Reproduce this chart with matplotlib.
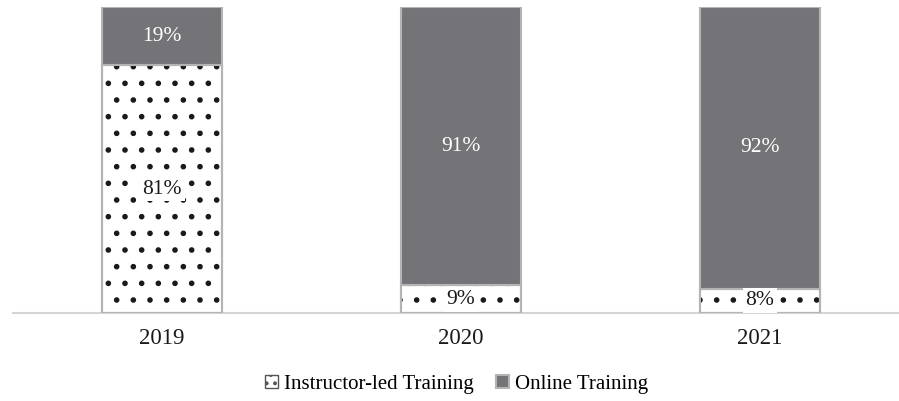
import numpy as np
from matplotlib import pyplot as plt

years = ["2019", "2020", "2021"]
instructor_led = [81, 9, 8]
online = [19, 91, 92]

plt.rcParams['font.family'] = ['Liberation Serif', 'DejaVu Serif']
plt.rcParams['hatch.linewidth'] = 1.6

fig = plt.figure(figsize=(8.99, 4.01), dpi=100)
ax = fig.add_axes([13 / 899, 88 / 401, 886 / 899, 306 / 401])

x = np.arange(len(years))
width = 0.40
edge = "#b4b4b4"

ax.bar(x, instructor_led, width, color="white", edgecolor=edge, linewidth=1.5,
       zorder=2)
ax.bar(x, instructor_led, width, color="none", edgecolor="#1a1a1a", hatch=".",
       linewidth=0, zorder=3)
ax.bar(x, instructor_led, width, color="none", edgecolor=edge, linewidth=1.5, zorder=4)
ax.bar(x, online, width, bottom=instructor_led, color="#747478", edgecolor=edge,
       linewidth=1.5, label="Online Training", zorder=2)

# legend handle for the patterned series
inst_handle = plt.Rectangle((0, 0), 1, 1, facecolor="white", edgecolor="#555555",
                            hatch="..", linewidth=1)

for i in range(len(years)):
    ax.text(x[i], instructor_led[i] / 2, f"{instructor_led[i]}%", ha="center",
            va="center", fontsize=15.5, color="#1a1a1a", zorder=5,
            bbox=dict(facecolor="white", edgecolor="none", pad=2))
    ax.text(x[i], instructor_led[i] + online[i] / 2, f"{online[i]}%", ha="center",
            va="center", fontsize=15.5, color="white", zorder=5)

ax.set_xlim((13 - 162) / 299, (899 - 162) / 299)
ax.set_ylim(0, 100)
ax.set_xticks(x)
ax.set_xticklabels(years, fontsize=16.5, color="#1a1a1a")
ax.tick_params(axis="x", length=0, pad=11)
ax.set_yticks([])
for side in ["left", "right", "top"]:
    ax.spines[side].set_visible(False)
ax.spines["bottom"].set_color("#d4d4d4")
ax.spines["bottom"].set_linewidth(1.5)

online_handle = ax.containers[-1].patches[0]
fig.legend([inst_handle, online_handle], ["Instructor-led Training", "Online Training"],
           loc="center", bbox_to_anchor=(0.508, 17 / 401), ncol=2,
           frameon=False, fontsize=15, handlelength=0.6, handleheight=0.6,
           handletextpad=0.3, columnspacing=1.1)

fig.savefig("out.png", dpi=100)
